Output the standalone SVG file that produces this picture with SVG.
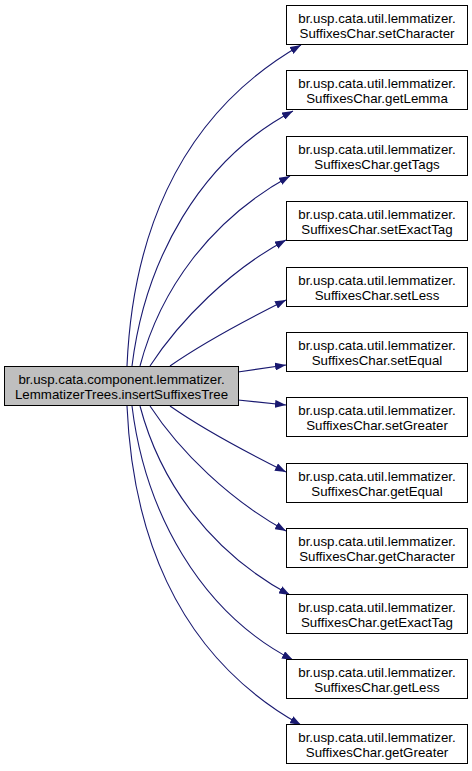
<svg xmlns="http://www.w3.org/2000/svg" width="472" height="771" viewBox="0 0 472 771">
<style>
.bg{fill:#ffffff}
.node rect{fill:#ffffff;stroke:#000000;stroke-width:1}
#root rect{fill:#bfbfbf}
.node text{font-family:"Liberation Sans",Arial,sans-serif;font-size:13.3px;text-anchor:middle;fill:#000000}
.edge path{fill:none;stroke:#191970;stroke-width:1.1}
</style>
<defs>
<marker id="ah" viewBox="0 0 11 8" refX="11" refY="4" markerWidth="11" markerHeight="8" markerUnits="userSpaceOnUse" orient="auto">
<path d="M0,0 L11,4 L0,8 z" fill="#191970" stroke="none"/>
</marker>
</defs>
<rect class="bg" x="0" y="0" width="472" height="771"/>
<g id="edges" class="edge">
<path marker-end="url(#ah)" d="M127,366 C132,250 170,120 301,45"/>
<path marker-end="url(#ah)" d="M132,366 C145,260 200,160 293,111"/>
<path marker-end="url(#ah)" d="M140,366 C160,290 210,220 290,176"/>
<path marker-end="url(#ah)" d="M150,366 C180,320 230,270 286,240"/>
<path marker-end="url(#ah)" d="M170,366 C200,345 250,318 286,300"/>
<path marker-end="url(#ah)" d="M238,372 L286,365"/>
<path marker-end="url(#ah)" d="M238,400 L286,405"/>
<path marker-end="url(#ah)" d="M170,406 C200,427 250,454 286,472"/>
<path marker-end="url(#ah)" d="M150,406 C180,452 230,500 286,531"/>
<path marker-end="url(#ah)" d="M140,406 C160,482 210,552 290,595"/>
<path marker-end="url(#ah)" d="M132,406 C145,512 200,612 293,660"/>
<path marker-end="url(#ah)" d="M127,406 C132,522 170,652 301,725"/>
</g>
<g id="root" class="node"><rect x="4.5" y="366.5" width="234" height="39"/><text x="121.5" y="384">br.usp.cata.component.lemmatizer.</text><text x="121.5" y="398.5">LemmatizerTrees.insertSuffixesTree</text></g>
<g id="n1" class="node"><rect x="286.5" y="5.5" width="181" height="39"/><text x="377" y="23">br.usp.cata.util.lemmatizer.</text><text x="377" y="37.5">SuffixesChar.setCharacter</text></g>
<g id="n2" class="node"><rect x="286.5" y="70.5" width="181" height="39"/><text x="377" y="88">br.usp.cata.util.lemmatizer.</text><text x="377" y="102.5">SuffixesChar.getLemma</text></g>
<g id="n3" class="node"><rect x="286.5" y="136.5" width="181" height="39"/><text x="377" y="154">br.usp.cata.util.lemmatizer.</text><text x="377" y="168.5">SuffixesChar.getTags</text></g>
<g id="n4" class="node"><rect x="286.5" y="201.5" width="181" height="39"/><text x="377" y="219">br.usp.cata.util.lemmatizer.</text><text x="377" y="233.5">SuffixesChar.setExactTag</text></g>
<g id="n5" class="node"><rect x="286.5" y="267.5" width="181" height="39"/><text x="377" y="285">br.usp.cata.util.lemmatizer.</text><text x="377" y="299.5">SuffixesChar.setLess</text></g>
<g id="n6" class="node"><rect x="286.5" y="332.5" width="181" height="39"/><text x="377" y="350">br.usp.cata.util.lemmatizer.</text><text x="377" y="364.5">SuffixesChar.setEqual</text></g>
<g id="n7" class="node"><rect x="286.5" y="397.5" width="181" height="39"/><text x="377" y="415">br.usp.cata.util.lemmatizer.</text><text x="377" y="429.5">SuffixesChar.setGreater</text></g>
<g id="n8" class="node"><rect x="286.5" y="463.5" width="181" height="39"/><text x="377" y="481">br.usp.cata.util.lemmatizer.</text><text x="377" y="495.5">SuffixesChar.getEqual</text></g>
<g id="n9" class="node"><rect x="286.5" y="528.5" width="181" height="39"/><text x="377" y="546">br.usp.cata.util.lemmatizer.</text><text x="377" y="560.5">SuffixesChar.getCharacter</text></g>
<g id="n10" class="node"><rect x="286.5" y="594.5" width="181" height="39"/><text x="377" y="612">br.usp.cata.util.lemmatizer.</text><text x="377" y="626.5">SuffixesChar.getExactTag</text></g>
<g id="n11" class="node"><rect x="286.5" y="659.5" width="181" height="39"/><text x="377" y="677">br.usp.cata.util.lemmatizer.</text><text x="377" y="691.5">SuffixesChar.getLess</text></g>
<g id="n12" class="node"><rect x="286.5" y="724.5" width="181" height="39"/><text x="377" y="742">br.usp.cata.util.lemmatizer.</text><text x="377" y="756.5">SuffixesChar.getGreater</text></g>
</svg>
